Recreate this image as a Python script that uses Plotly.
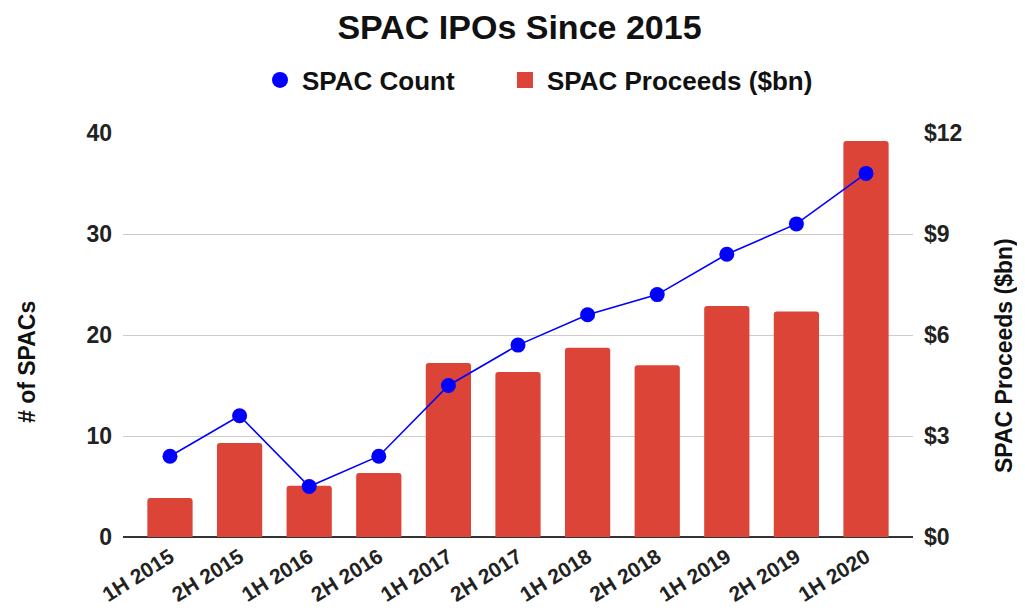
import plotly.graph_objects as go

categories = ["1H 2015", "2H 2015", "1H 2016", "2H 2016", "1H 2017", "2H 2017",
              "1H 2018", "2H 2018", "1H 2019", "2H 2019", "1H 2020"]
spac_count = [8, 12, 5, 8, 15, 19, 22, 24, 28, 31, 36]
spac_proceeds = [1.16, 2.79, 1.52, 1.90, 5.17, 4.90, 5.62, 5.10, 6.86, 6.70, 11.76]
left_ticks = [0, 10, 20, 30, 40]
right_ticks = [0, 3, 6, 9, 12]

FONT = "Arial, Liberation Sans, sans-serif"
RED = "#db4437"
BLUE = "#0000ff"
W, H = 1025, 615
L, R, T, B = 115, 120, 125, 86
PW, PH = W - L - R, H - T - B

fig = go.Figure()
fig.add_trace(go.Bar(
    x=categories, y=spac_proceeds, name="SPAC Proceeds ($bn)",
    marker=dict(color=RED, line=dict(width=0), cornerradius=3),
    yaxis="y", showlegend=False,
))
fig.add_trace(go.Scatter(
    x=categories, y=spac_count, name="SPAC Count", mode="lines+markers",
    line=dict(color=BLUE, width=1.6), marker=dict(color=BLUE, size=15),
    yaxis="y2", showlegend=False,
))
# legend-only entries (dot and square)
fig.add_trace(go.Scatter(x=[None], y=[None], mode="markers",
                         name="<b>SPAC Count</b>" + "&nbsp;" * 6,
                         marker=dict(color=BLUE, size=19, symbol="circle")))
fig.add_trace(go.Scatter(x=[None], y=[None], mode="markers", name="<b>SPAC Proceeds ($bn)</b>",
                         marker=dict(color=RED, size=18, symbol="square")))

fig.update_layout(
    width=W, height=H,
    margin=dict(l=L, r=R, t=T, b=B, autoexpand=False),
    paper_bgcolor="white", plot_bgcolor="white",
    font=dict(family=FONT, color="#222", size=15),
    title=dict(text="<b>SPAC IPOs Since 2015</b>", x=511.5 / W, xanchor="center",
               xref="container", y=1 - 19 / H, yanchor="middle", yref="container",
               font=dict(size=34, color="#111")),
    legend=dict(orientation="h", x=250 / W, xanchor="left", xref="container",
                y=1 - 72 / H, yanchor="middle", yref="container",
                font=dict(size=26, color="#111"), itemwidth=34),
    bargap=0.35,
    xaxis=dict(range=[-0.675, 10.675], tickangle=-32, showgrid=False,
               tickfont=dict(size=21, color="#222"), showline=False, ticks="",
               ticklabelstandoff=3,
               tickprefix="<b>", ticksuffix="</b>", automargin=False),
    yaxis=dict(range=[0, 12], tickvals=right_ticks,
               ticktext=[f"<b>${v}</b>" for v in right_ticks],
               side="right", showgrid=True,
               gridcolor="#cccccc", zeroline=True, zerolinecolor="#333333", zerolinewidth=1.5,
               ticks="", ticklabelstandoff=10, automargin=False,
               tickfont=dict(size=23, color="#222")),
    yaxis2=dict(range=[0, 40], tickvals=left_ticks,
                ticktext=[f"<b>{v}</b>" for v in left_ticks],
                overlaying="y", side="left", showgrid=False,
                zeroline=False, ticks="", ticklabelstandoff=10, automargin=False,
                tickfont=dict(size=23, color="#222")),
    annotations=[
        dict(text="<b># of SPACs</b>", textangle=-90, showarrow=False,
             xref="paper", yref="paper", x=(19 - L) / PW, y=(H - B - 354) / PH,
             xanchor="center", yanchor="middle", font=dict(size=23, color="#111")),
        dict(text="<b>SPAC Proceeds ($bn)</b>", textangle=-90, showarrow=False,
             xref="paper", yref="paper", x=(996 - L) / PW, y=(H - B - 348) / PH,
             xanchor="center", yanchor="middle", font=dict(size=23, color="#111")),
    ],
)

fig.write_html("out.html")
